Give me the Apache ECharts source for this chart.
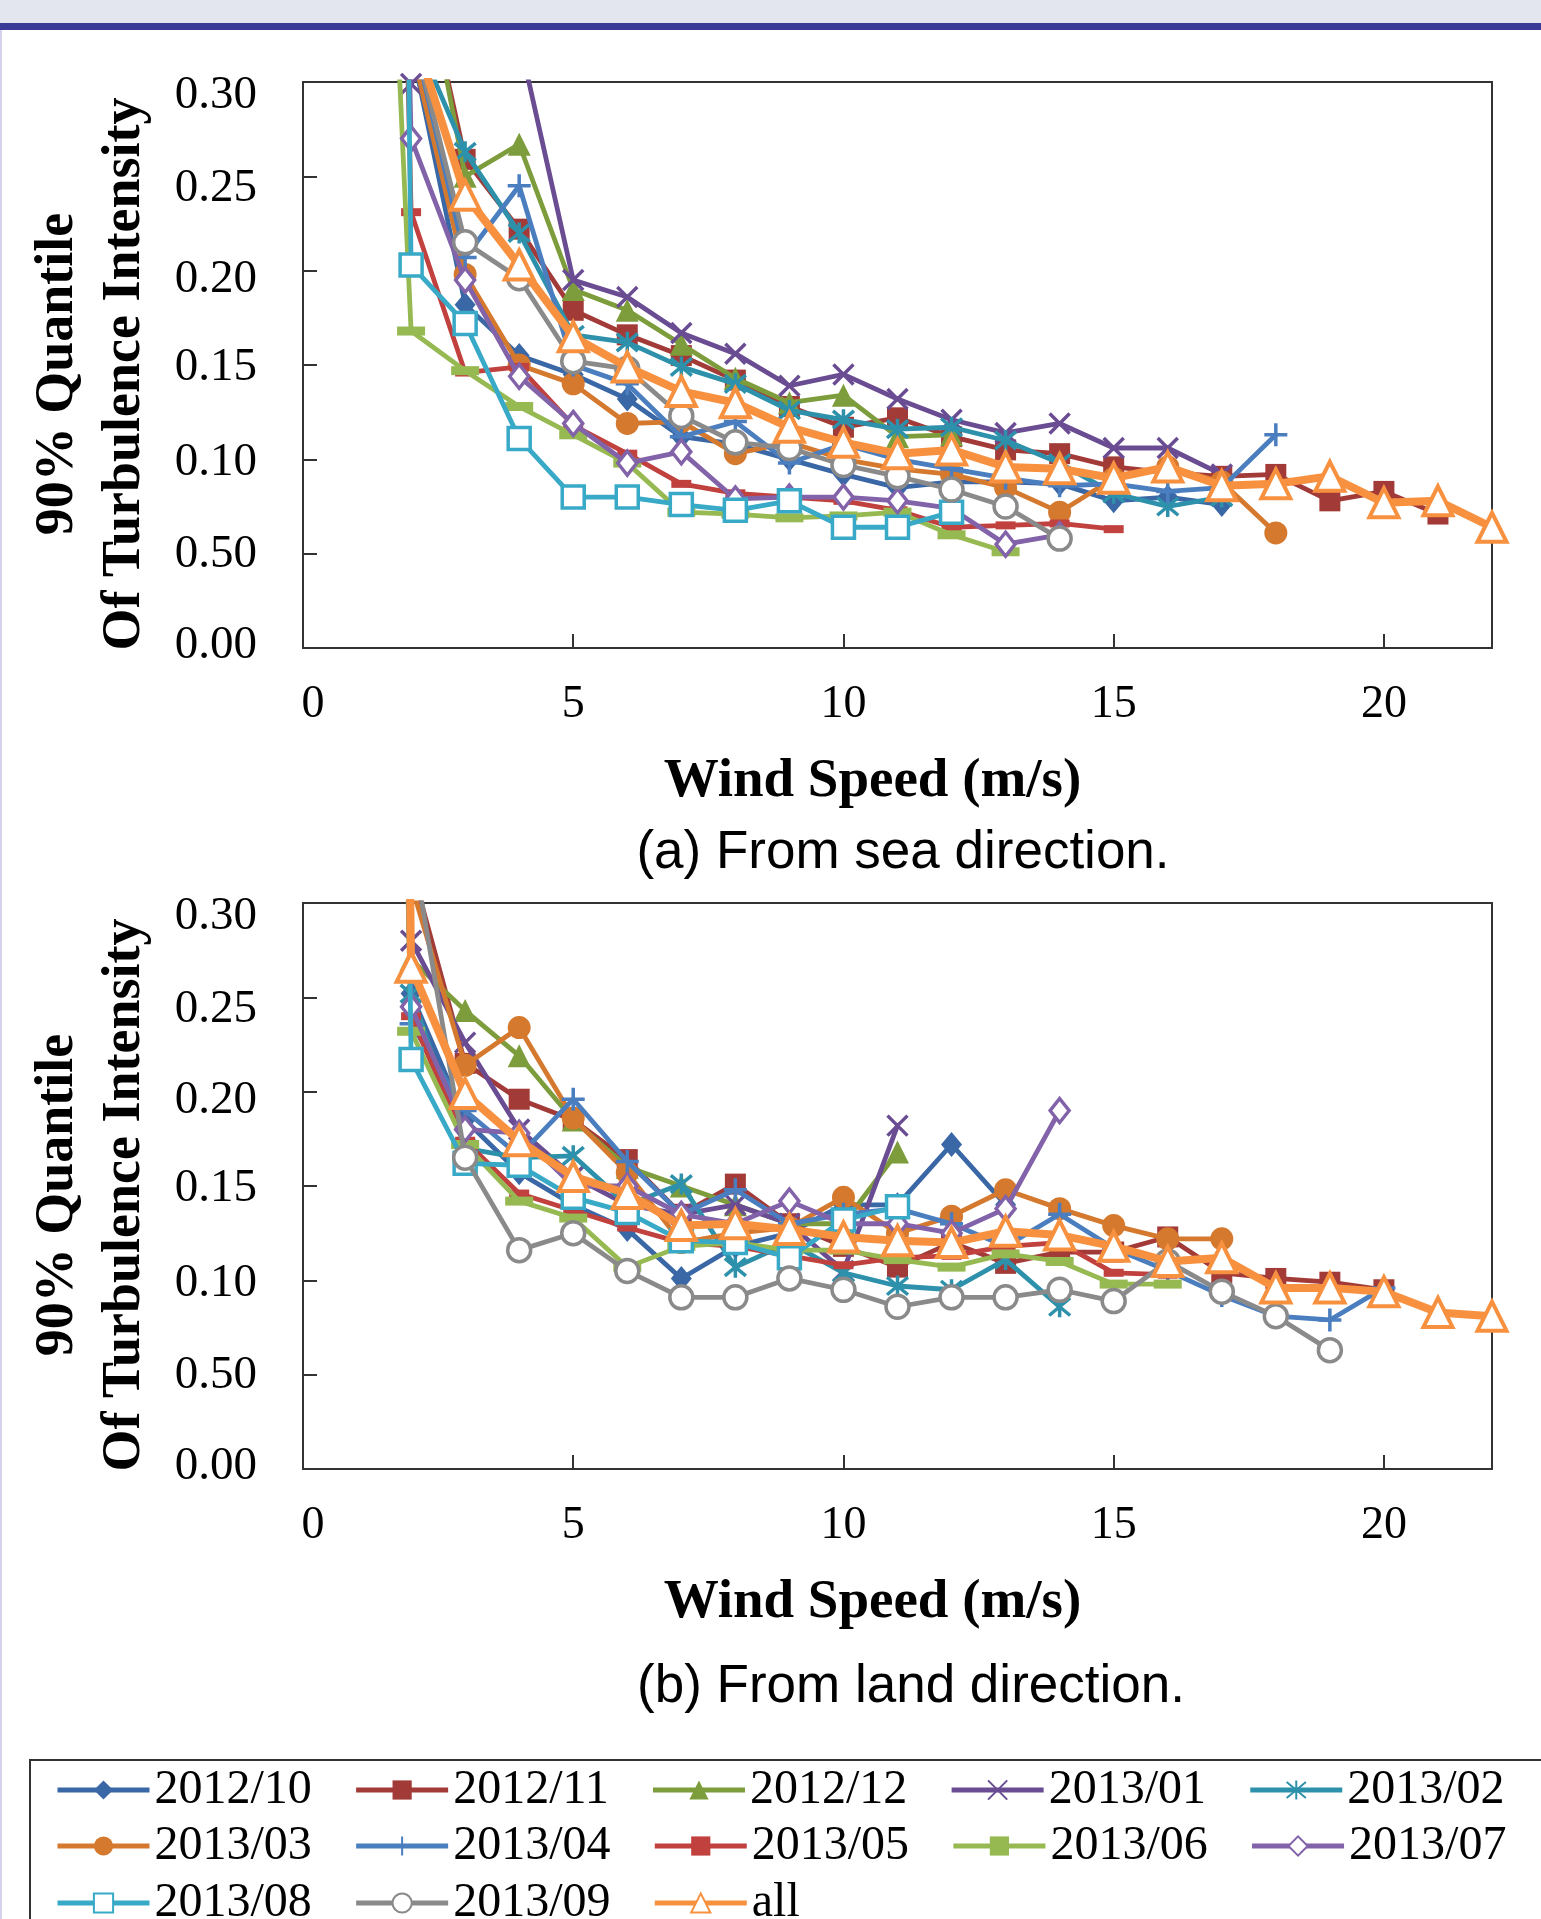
<!DOCTYPE html>
<html lang="en">
<head>
<meta charset="UTF-8">
<title>90% Quantile of Turbulence Intensity</title>
<script src="https://cdn.jsdelivr.net/npm/echarts@6.0.0/dist/echarts.min.js"></script>
<style>
    html, body { margin: 0; padding: 0; background: #fff; }
    #main { width: 1541px; height: 1919px; }
</style>
</head>
<body>
<div id="main"></div>
<script>
// wind speed bins (m/s); every series starts at 1 m/s
var speeds = [1, 2, 3, 4, 5, 6, 7, 8, 9, 10, 11, 12, 13, 14, 15, 16, 17, 18, 19, 20, 21, 22];
var months = ['2012/10', '2012/11', '2012/12', '2013/01', '2013/02', '2013/03',
              '2013/04', '2013/05', '2013/06', '2013/07', '2013/08', '2013/09', 'all'];
var yTickLabels = ['0.00', '0.50', '0.10', '0.15', '0.20', '0.25', '0.30'];
var xTickLabels = ['0', '5', '10', '15', '20'];
var yTitle = '90% Quantile\nOf Turbulence Intensity';

// (a) from sea direction
var sea_2012_10 = [0.9, 0.32, 0.182, 0.155, 0.145, 0.132, 0.112, 0.108, 0.100, 0.092, 0.085, 0.088, 0.088, 0.087, 0.078, 0.080, 0.076];
var sea_2012_11 = [0.9, 0.39, 0.259, 0.222, 0.179, 0.166, 0.155, 0.142, 0.128, 0.117, 0.122, 0.112, 0.105, 0.103, 0.096, 0.093, 0.091, 0.092, 0.078, 0.083, 0.071];
var sea_2012_12 = [0.9, 0.40, 0.250, 0.267, 0.190, 0.179, 0.161, 0.143, 0.130, 0.134, 0.112, 0.113];
var sea_2013_01 = [0.9, 0.299, 0.34, 0.323, 0.195, 0.186, 0.167, 0.156, 0.139, 0.145, 0.132, 0.121, 0.114, 0.119, 0.106, 0.106, 0.092];
var sea_2013_02 = [0.9, 0.33, 0.263, 0.220, 0.166, 0.162, 0.149, 0.140, 0.126, 0.121, 0.116, 0.117, 0.110, 0.098, 0.082, 0.075, 0.080];
var sea_2013_03 = [0.9, 0.32, 0.198, 0.150, 0.140, 0.119, 0.120, 0.103, 0.109, 0.100, 0.095, 0.092, 0.085, 0.072, 0.090, 0.096, 0.088, 0.061];
var sea_2013_04 = [0.9, 0.33, 0.207, 0.245, 0.150, 0.140, 0.112, 0.120, 0.098, 0.108, 0.100, 0.095, 0.090, 0.086, 0.087, 0.083, 0.085, 0.113];
var sea_2013_05 = [1.5, 0.231, 0.146, 0.149, 0.118, 0.103, 0.087, 0.082, 0.080, 0.078, 0.073, 0.064, 0.065, 0.066, 0.063];
var sea_2013_06 = [0.8, 0.168, 0.147, 0.128, 0.113, 0.098, 0.072, 0.071, 0.069, 0.070, 0.072, 0.060, 0.051];
var sea_2013_07 = [1.5, 0.270, 0.195, 0.144, 0.119, 0.098, 0.104, 0.079, 0.080, 0.080, 0.078, 0.074, 0.055, 0.060];
var sea_2013_08 = [2.5, 0.203, 0.172, 0.111, 0.080, 0.080, 0.076, 0.073, 0.078, 0.064, 0.064, 0.072];
var sea_2013_09 = [0.9, 0.33, 0.215, 0.196, 0.152, 0.148, 0.123, 0.109, 0.106, 0.097, 0.091, 0.084, 0.075, 0.058];
var sea_all     = [0.9, 0.33, 0.240, 0.203, 0.165, 0.149, 0.136, 0.130, 0.117, 0.109, 0.103, 0.105, 0.096, 0.095, 0.090, 0.096, 0.086, 0.087, 0.091, 0.077, 0.078, 0.064];

// (b) from land direction
var land_2012_10 = [1.5, 0.252, 0.185, 0.157, 0.140, 0.127, 0.101, 0.118, 0.125, 0.140, 0.140, 0.172, 0.140];
var land_2012_11 = [1.5, 0.32, 0.215, 0.196, 0.185, 0.164, 0.135, 0.151, 0.130, 0.118, 0.107, 0.120, 0.109, 0.115, 0.115, 0.123, 0.104, 0.101, 0.099, 0.095];
var land_2012_12 = [1.5, 0.270, 0.243, 0.219, 0.185, 0.160, 0.150, 0.140, 0.130, 0.130, 0.168];
var land_2013_01 = [1.5, 0.28, 0.226, 0.180, 0.155, 0.140, 0.135, 0.140, 0.130, 0.105, 0.182];
var land_2013_02 = [1.5, 0.252, 0.170, 0.165, 0.166, 0.140, 0.151, 0.107, 0.120, 0.104, 0.097, 0.095, 0.111, 0.086];
var land_2013_03 = [1.5, 0.31, 0.214, 0.234, 0.186, 0.157, 0.120, 0.125, 0.128, 0.144, 0.125, 0.134, 0.148, 0.138, 0.129, 0.122, 0.122];
var land_2013_04 = [1.5, 0.236, 0.190, 0.166, 0.196, 0.163, 0.135, 0.148, 0.130, 0.135, 0.138, 0.130, 0.118, 0.135, 0.117, 0.105, 0.092, 0.081, 0.079, 0.096];
var land_2013_05 = [1.5, 0.240, 0.174, 0.146, 0.137, 0.128, 0.120, 0.118, 0.113, 0.108, 0.112, 0.113, 0.118, 0.120, 0.104, 0.103];
var land_2013_06 = [1.5, 0.232, 0.172, 0.142, 0.133, 0.107, 0.118, 0.120, 0.116, 0.116, 0.111, 0.107, 0.114, 0.110, 0.098, 0.098];
var land_2013_07 = [1.5, 0.245, 0.180, 0.178, 0.150, 0.150, 0.135, 0.130, 0.142, 0.130, 0.130, 0.125, 0.138, 0.190];
var land_2013_08 = [2.5, 0.217, 0.162, 0.161, 0.144, 0.136, 0.121, 0.120, 0.112, 0.132, 0.139];
var land_2013_09 = [0.9, 0.334, 0.165, 0.116, 0.125, 0.105, 0.091, 0.091, 0.101, 0.095, 0.086, 0.091, 0.091, 0.095, 0.089, 0.110, 0.094, 0.081, 0.063];
var land_all     = [2.5, 0.266, 0.199, 0.174, 0.155, 0.146, 0.129, 0.130, 0.127, 0.123, 0.121, 0.120, 0.126, 0.124, 0.118, 0.110, 0.112, 0.096, 0.096, 0.094, 0.083, 0.081];

var seaSets = [sea_2012_10, sea_2012_11, sea_2012_12, sea_2013_01, sea_2013_02, sea_2013_03,
               sea_2013_04, sea_2013_05, sea_2013_06, sea_2013_07, sea_2013_08, sea_2013_09, sea_all];
var landSets = [land_2012_10, land_2012_11, land_2012_12, land_2013_01, land_2013_02, land_2013_03,
                land_2013_04, land_2013_05, land_2013_06, land_2013_07, land_2013_08, land_2013_09, land_all];

// marker look per month (Excel style markers)
var CROSS = 'path://M0,0L10,10M10,0L0,10';
var STAR = 'path://M0,0L10,10M10,0L0,10M5,-1L5,11';
var PLUS = 'path://M5,0L5,10M0,5L10,5';
var looks = [
    { color: '#3A67A6', symbol: 'diamond', size: [21, 25] },
    { color: '#A23A37', symbol: 'rect', size: 21 },
    { color: '#7D9C3B', symbol: 'triangle', size: 23 },
    { color: '#6A4C93', symbol: CROSS, size: 20, stroke: true },
    { color: '#2E91AB', symbol: STAR, size: 21, stroke: true },
    { color: '#D5792E', symbol: 'circle', size: 23 },
    { color: '#4A7EBF', symbol: PLUS, size: 23, stroke: true },
    { color: '#C1413E', symbol: 'rect', size: [20, 8] },
    { color: '#97B952', symbol: 'rect', size: [28, 9] },
    { color: '#8262A8', symbol: 'diamond', size: [19, 24], hollow: true },
    { color: '#38A9C6', symbol: 'rect', size: 22, hollow: true },
    { color: '#8A8A8A', symbol: 'circle', size: 23, hollow: true },
    { color: '#F7913F', symbol: 'triangle', size: 29, hollow: true, width: 8, bw: 4 }
];

// Excel drew the y tick labels slightly below their ticks
var yLabelShift = [-2, 1, 3, 3, 9, 12, 14];

var serif = 'Liberation Serif';

function buildSeries(sets, panel) {
    return sets.map(function (vals, k) {
        var look = looks[k];
        var pts = [];
        for (var i = 0; i < vals.length; i++) {
            if (vals[i] != null) pts.push([speeds[i], vals[i]]);
        }
        var item;
        if (look.hollow) item = { color: '#fff', borderColor: look.color, borderWidth: look.bw || 3.5 };
        else if (look.stroke) item = { color: look.color, borderColor: look.color, borderWidth: 3.5 };
        else item = { color: look.color };
        return {
            name: months[k],
            type: 'line',
            xAxisIndex: panel,
            yAxisIndex: panel,
            data: pts,
            symbol: look.symbol,
            symbolSize: look.size,
            showAllSymbol: true,
            clip: true,
            lineStyle: { color: look.color, width: look.width || 4.8 },
            itemStyle: item,
            emphasis: { disabled: true },
            z: 2 + k
        };
    });
}

var yRich = {};
yLabelShift.forEach(function (d, i) {
    yRich['s' + i] = { fontFamily: serif, fontSize: 47, color: '#000',
        padding: d >= 0 ? [2 * d, 0, 0, 0] : [0, 0, -2 * d, 0] };
});

function xAxisFor(i) {
    return {
        type: 'value', gridIndex: i, min: 0, max: 22, interval: 5,
        axisLine: { show: true, lineStyle: { color: '#333', width: 2 } },
        axisTick: { show: true, inside: true, length: 14, lineStyle: { color: '#333', width: 2 } },
        splitLine: { show: false },
        axisLabel: {
            margin: 34, color: '#000', fontFamily: serif, fontSize: 46,
            formatter: function (v, idx) { return idx === 0 ? '{z|0}' : (xTickLabels[idx] || ''); },
            rich: { z: { fontFamily: serif, fontSize: 46, color: '#000', padding: [0, 0, 0, 20] } }
        },
        name: 'Wind Speed (m/s)', nameLocation: 'middle', nameGap: 106,
        nameTextStyle: { color: '#000', fontFamily: serif, fontWeight: 'bold', fontSize: 55, padding: [0, 50, 0, 0] }
    };
}

function yAxisFor(i) {
    return {
        type: 'value', gridIndex: i, min: 0, max: 0.3, interval: 0.05,
        axisLine: { show: true, lineStyle: { color: '#333', width: 2 } },
        axisTick: { show: true, inside: true, length: 14, lineStyle: { color: '#333', width: 2 } },
        splitLine: { show: false },
        axisLabel: {
            margin: 46, color: '#000', fontFamily: serif, fontSize: 47,
            formatter: function (v, idx) { return '{s' + idx + '|' + yTickLabels[idx] + '}'; },
            rich: yRich
        }
    };
}

function yTitleText(cy) {
    return {
        type: 'text', x: 92, y: cy, rotation: Math.PI / 2,
        style: { text: yTitle, fill: '#000', font: 'bold 54px "Liberation Serif"', lineHeight: 67,
                 textAlign: 'center', textVerticalAlign: 'middle' }
    };
}

var legendRows = [months.slice(0, 5), months.slice(5, 10), months.slice(10)];
var legendTops = [1761, 1817, 1874];

var chart = echarts.init(document.getElementById('main'));
chart.setOption({
    backgroundColor: '#fff',
    animation: false,
    grid: [
        { left: 303, top: 82, width: 1189, height: 566, show: true, borderColor: '#333', borderWidth: 2, outerBoundsMode: 'none' },
        { left: 303, top: 903, width: 1189, height: 566, show: true, borderColor: '#333', borderWidth: 2, outerBoundsMode: 'none' }
    ],
    xAxis: [xAxisFor(0), xAxisFor(1)],
    yAxis: [yAxisFor(0), yAxisFor(1)],
    legend: legendRows.map(function (row, r) {
        return {
            data: row, left: 50, top: legendTops[r], orient: 'horizontal',
            itemWidth: 92, itemHeight: 24, itemGap: 41.8,
            lineStyle: { width: 5 },
            textStyle: { color: '#000', fontFamily: serif, fontSize: 48 },
            selectedMode: false
        };
    }),
    graphic: [
        { type: 'rect', shape: { x: 0, y: 0, width: 1541, height: 23 }, style: { fill: '#E3E6EF' } },
        { type: 'rect', shape: { x: 0, y: 23, width: 1541, height: 7 }, style: { fill: '#3A3A99' } },
        { type: 'rect', shape: { x: 0, y: 30, width: 2, height: 1889 }, style: { fill: '#D6D2EE' } },
        { type: 'rect', shape: { x: 30, y: 1760, width: 1540, height: 220 }, style: { fill: 'none', stroke: '#333', lineWidth: 2 } },
        yTitleText(374),
        yTitleText(1195),
        { type: 'text', x: 903, y: 853, style: { text: '(a) From sea direction.', fill: '#000', font: '53px "Liberation Sans"', textAlign: 'center', textVerticalAlign: 'middle' } },
        { type: 'text', x: 911, y: 1687, style: { text: '(b) From land direction.', fill: '#000', font: '53px "Liberation Sans"', textAlign: 'center', textVerticalAlign: 'middle' } }
    ],
    series: buildSeries(seaSets, 0).concat(buildSeries(landSets, 1))
});
</script>
</body>
</html>
